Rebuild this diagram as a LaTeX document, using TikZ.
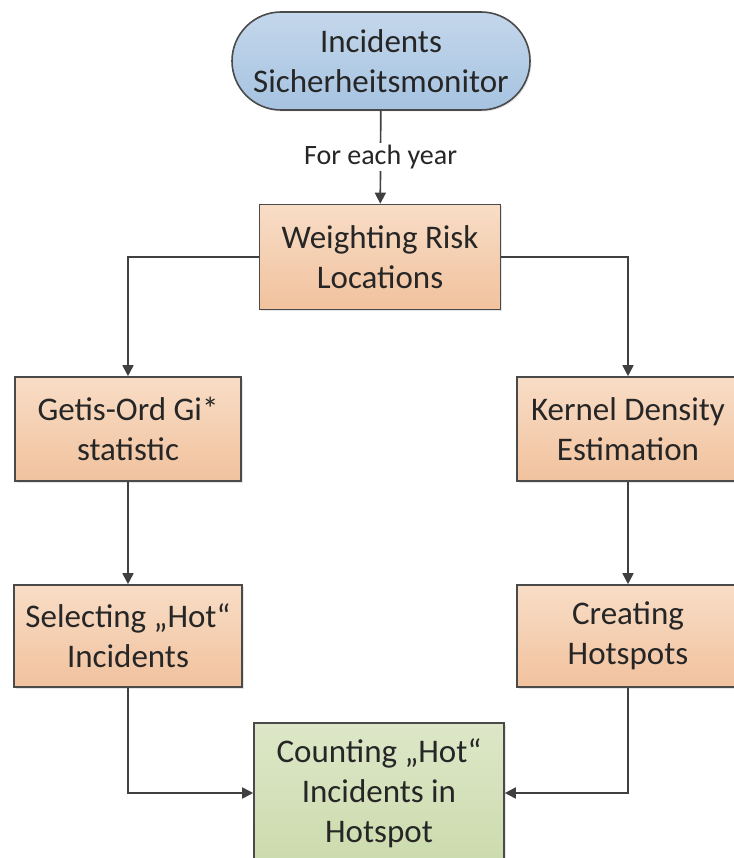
\documentclass[tikz,border=0pt]{standalone}
\usepackage{fontspec}
\setmainfont{Carlito}
\usetikzlibrary{arrows.meta,shadows}
\definecolor{edgegray}{HTML}{4A4A4A}
\definecolor{arrowgray}{HTML}{404040}
\definecolor{blueTop}{HTML}{C4D7EB}
\definecolor{blueBot}{HTML}{A6C3E1}
\definecolor{orangeTop}{HTML}{F8DDC6}
\definecolor{orangeBot}{HTML}{F1C29E}
\definecolor{greenTop}{HTML}{DDE7C8}
\definecolor{greenBot}{HTML}{CCDBAD}
\begin{document}
\begin{tikzpicture}[x=1pt,y=-1pt,
    box/.style={draw=edgegray,line width=1.6pt,align=center,inner sep=0pt,
      text=black!85,font=\fontsize{33}{40}\selectfont,
      drop shadow={shadow xshift=1.5pt,shadow yshift=-1.5pt,fill=black!20}},
    stepbox/.style={box,top color=orangeTop,bottom color=orangeBot},
    flow/.style={draw=arrowgray,line width=1.7pt,-{Triangle[length=11pt,width=11pt]}}]
  \useasboundingbox (0,0) rectangle (733,858);
  \draw
    (381,61) node[box,rounded corners=49pt,minimum width=298pt,minimum height=98pt,
      top color=blueTop,bottom color=blueBot] (src){Incidents\\Sicherheitsmonitor}
    (380,257) node[stepbox,minimum width=241pt,minimum height=105pt] (weight){Weighting Risk\\Locations}
    (128,429) node[stepbox,minimum width=226pt,minimum height=104pt] (getis){Getis-Ord Gi*\\statistic}
    (628,429) node[stepbox,minimum width=222pt,minimum height=104pt] (kernel){Kernel Density\\Estimation}
    (128,636) node[stepbox,minimum width=228pt,minimum height=102pt] (select){Selecting „Hot“\\Incidents}
    (628,636) node[stepbox,minimum width=222pt,minimum height=102pt] (create){Creating\\Hotspots}
    (379,793) node[box,minimum width=250pt,minimum height=140pt,
      top color=greenTop,bottom color=greenBot] (count){Counting „Hot“\\Incidents in\\Hotspot};
  \begin{scope}[flow]
    \draw (src) to node[fill=white,text=black!85,inner sep=2pt,
      font=\fontsize{28}{34}\selectfont]{For each year} (weight);
    \draw (weight.west) -| (getis.north);
    \draw (weight.east) -| (kernel.north);
    \draw (getis) to (select);
    \draw (kernel) to (create);
    \draw (select.south) |- (count.west);
    \draw (create.south) |- (count.east);
  \end{scope}
\end{tikzpicture}
\end{document}
